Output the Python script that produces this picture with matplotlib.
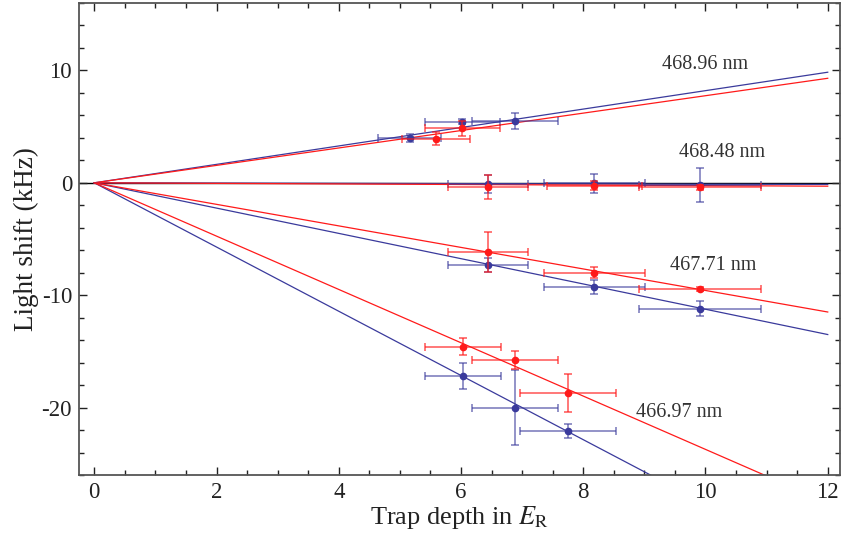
import numpy as np
import matplotlib
matplotlib.use("Agg")
import matplotlib.pyplot as plt
from matplotlib.ticker import MultipleLocator

plt.rcParams['font.family'] = ['Liberation Serif', 'DejaVu Serif']
plt.rcParams['mathtext.fontset'] = 'stix'
plt.rcParams['axes.unicode_minus'] = False

BLUE = '#3a3a9c'
RED = '#ff1a1a'

wavelengths = ['468.96 nm', '468.48 nm', '467.71 nm', '466.97 nm']

# blue series (x, xerr, y, yerr) per wavelength
blue_x = [[5.16, 6.02, 6.88], [6.44, 8.18, 9.91], [6.44, 8.18, 9.91], [6.03, 6.88, 7.75]]
blue_xerr = [[0.52, 0.61, 0.70], [0.65, 0.83, 1.0], [0.65, 0.83, 1.0], [0.62, 0.70, 0.79]]
blue_y = [[4.0, 5.43, 5.49], [-0.12, -0.06, -0.18], [-7.32, -9.26, -11.2], [-17.2, -20.0, -22.1]]
blue_yerr = [[0.37, 0.22, 0.70], [0.8, 0.87, 1.5], [0.6, 0.6, 0.65], [1.15, 3.35, 0.65]]

# red series
red_x = [[5.59, 6.02], [6.44, 8.18, 9.91], [6.44, 8.18, 9.91], [6.03, 6.88, 7.75]]
red_xerr = [[0.56, 0.61], [0.65, 0.78, 1.0], [0.65, 0.83, 1.0], [0.62, 0.70, 0.79]]
red_y = [[3.92, 4.84], [-0.35, -0.24, -0.41], [-6.17, -7.99, -9.47], [-14.6, -15.8, -18.7]]
red_yerr = [[0.57, 0.7], [1.08, 0.4, 0.2], [1.8, 0.5, 0.2], [0.75, 0.8, 1.65]]

# slopes of the linear fits through the origin (kHz per E_R)
blue_slope = [0.82, -0.012, -1.125, -2.857]
red_slope = [0.775, -0.025, -0.958, -2.372]

label_pos = [(9.99, 10.5), (10.27, 2.7), (10.13, -7.4), (9.57, -20.4)]

fig = plt.figure(figsize=(8.43, 5.43), dpi=100)
ax = fig.add_axes([0.0937, 0.1252, 0.9027, 0.8693])

xf = np.array([0, 12])
ax.axhline(0, color='black', lw=1.0, zorder=1)

for i in range(len(wavelengths)):
    ax.plot(xf, blue_slope[i] * xf, color=BLUE, lw=0.9, zorder=2)
    ax.plot(xf, red_slope[i] * xf, color=RED, lw=0.9, zorder=2)
    ax.errorbar(blue_x[i], blue_y[i], xerr=blue_xerr[i], yerr=blue_yerr[i],
                fmt='o', ms=4.5, color=BLUE, ecolor=(0.23, 0.23, 0.61, 0.7),
                elinewidth=1.1, capsize=3, capthick=1.1, zorder=3)
    ax.errorbar(red_x[i], red_y[i], xerr=red_xerr[i], yerr=red_yerr[i],
                fmt='o', ms=4.5, color=RED, ecolor=(1, 0.1, 0.1, 0.75),
                elinewidth=1.1, capsize=3, capthick=1.1, zorder=4)
    ax.text(label_pos[i][0], label_pos[i][1], wavelengths[i], ha='center',
            va='center', fontsize=14.5, color='#333333')

ax.set_xlim(-0.25, 12.2)
ax.set_ylim(-26, 16)
ax.xaxis.set_major_locator(MultipleLocator(2))
ax.xaxis.set_minor_locator(MultipleLocator(0.5))
ax.yaxis.set_major_locator(MultipleLocator(10))
ax.yaxis.set_minor_locator(MultipleLocator(2))
ax.tick_params(which='both', direction='in', top=True, right=True,
               labelsize=16.5, colors='#222222')
ax.tick_params(which='major', length=6, width=1, pad=5)
ax.tick_params(which='minor', length=3.7, width=1)
for s in ax.spines.values():
    s.set_color('#555555')
    s.set_linewidth(1.3)

ax.set_xlabel('Trap depth in $E_{\\mathrm{R}}$', fontsize=19, color='#222222', labelpad=1)
ax.set_ylabel('Light shift (kHz)', fontsize=19.5, color='#222222', labelpad=2)

fig.savefig('out.png', dpi=100)
